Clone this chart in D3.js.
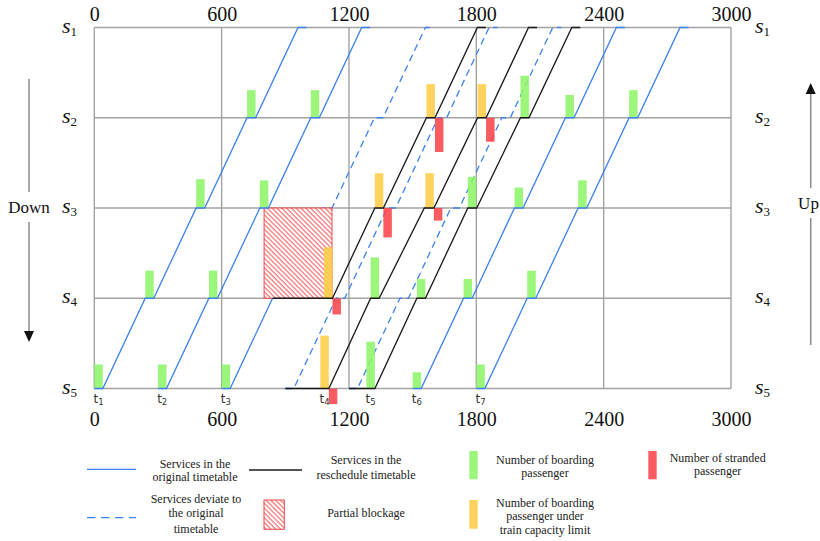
<!DOCTYPE html>
<html>
<head>
<meta charset="utf-8">
<script src="https://cdn.jsdelivr.net/npm/d3@7"></script>
<style>
  body { margin: 0; background: #fff; }
</style>
</head>
<body>
<div id="chart"></div>
<script>
// time ticks (seconds)
const timeTicks = [0, 600, 1200, 1800, 2400, 3000];
const stationIds = [1, 2, 3, 4, 5];
const trainIds = [1, 2, 3, 4, 5, 6, 7];
const trainLabelTimes = [20, 320, 620, 1085, 1302, 1520, 1820];

// blockage: [start, end] time, between stations
const blockageTimes = [800, 1120];
const blockageStations = [3, 4];

// each service: stops as [station, arrive, depart]
const originalServices = [
  [[5, 0, 40], [4, 240, 280], [3, 480, 520], [2, 720, 760], [1, 960, 1000]],
  [[5, 300, 340], [4, 540, 580], [3, 780, 820], [2, 1020, 1060], [1, 1260, 1300]],
  [[5, 600, 640], [4, 840, 840]],
  [[5, 1500, 1540], [4, 1740, 1780], [3, 1980, 2020], [2, 2220, 2260], [1, 2460, 2500]],
  [[5, 1800, 1840], [4, 2040, 2080], [3, 2280, 2320], [2, 2520, 2560], [1, 2760, 2800]]
];
const deviatedServices = [
  [[4, 840, 880], [3, 1080, 1120], [2, 1320, 1360], [1, 1560, 1600]],
  [[5, 900, 940], [4, 1140, 1180], [3, 1380, 1420], [2, 1620, 1660], [1, 1860, 1900]],
  [[5, 1200, 1240], [4, 1440, 1480], [3, 1680, 1720], [2, 1920, 1960], [1, 2160, 2200]]
];
const rescheduledServices = [
  [[4, 840, 1122], [3, 1322, 1362], [2, 1565, 1605], [1, 1805, 1845]],
  [[5, 900, 1105], [4, 1302, 1342], [3, 1555, 1600], [2, 1806, 1846], [1, 2046, 2086]],
  [[5, 1200, 1322], [4, 1520, 1560], [3, 1760, 1802], [2, 2008, 2048], [1, 2250, 2290]]
];

// bars: [station, start, end, passengers]
const boarding = [
  [5, 0, 40, 20], [5, 300, 340, 20], [5, 600, 640, 20], [5, 1282, 1322, 39], [5, 1500, 1540, 13.5], [5, 1800, 1840, 20],
  [4, 240, 280, 23], [4, 540, 580, 23], [4, 1302, 1342, 34], [4, 1520, 1560, 16], [4, 1740, 1780, 16], [4, 2040, 2080, 23],
  [3, 480, 520, 24], [3, 780, 820, 23], [3, 1760, 1800, 26], [3, 1980, 2020, 17], [3, 2280, 2320, 23],
  [2, 720, 760, 23], [2, 1020, 1060, 23], [2, 2008, 2048, 35], [2, 2220, 2260, 19], [2, 2520, 2560, 23]
];
const boardingLimited = [
  [5, 1065, 1105, 44], [4, 1082, 1122, 42.5], [3, 1322, 1362, 29], [3, 1560, 1600, 29],
  [2, 1565, 1605, 28], [2, 1806, 1846, 28]
];
const stranded = [
  [5, 1105, 1145, 13], [4, 1122, 1162, 13.5], [3, 1362, 1402, 24.5], [3, 1600, 1640, 10.5],
  [2, 1605, 1645, 28.5], [2, 1846, 1886, 20]
];

const SERIF = '"Liberation Serif", "Times New Roman", serif';
const W = 820, H = 541;
const svg = d3.select("#chart").append("svg")
  .attr("width", W).attr("height", H)
  .style("font-family", SERIF);

const x = d3.scaleLinear().domain([0, 3000]).range([94.3, 731]);
const y = d3.scaleLinear().domain([1, 5]).range([27.5, 388.5]);
const pax = d3.scaleLinear().domain([0, 50]).range([0, 60]);

const BLUE = "#3d82ef", GRID = "#a3a3a3";
const GREEN = "#8ef56a", ORANGE = "#ffcd47", RED = "#f8444a";

// hatch pattern
const defs = svg.append("defs");
const pat = defs.append("pattern")
  .attr("id", "hatch")
  .attr("patternUnits", "userSpaceOnUse")
  .attr("width", 3.4).attr("height", 3.4)
  .attr("patternTransform", "rotate(-45)");
pat.append("rect").attr("width", 3.4).attr("height", 3.4).attr("fill", "#fff");
pat.append("line")
  .attr("x1", 1).attr("x2", 1).attr("y1", 0).attr("y2", 3.4)
  .attr("stroke", "#f25050").attr("stroke-width", 1);

// grid
svg.append("g").selectAll("line")
  .data(timeTicks)
  .join("line")
  .attr("x1", d => x(d)).attr("x2", d => x(d))
  .attr("y1", y(1)).attr("y2", y(5))
  .attr("stroke", GRID).attr("stroke-width", 1.4);
svg.append("g").selectAll("line")
  .data(stationIds)
  .join("line")
  .attr("x1", x(0)).attr("x2", x(3000))
  .attr("y1", d => y(d)).attr("y2", d => y(d))
  .attr("stroke", GRID).attr("stroke-width", 1.4);

// axes top and bottom
const topAxis = svg.append("g")
  .attr("transform", `translate(0,${y(1)})`)
  .call(d3.axisTop(x).tickValues(timeTicks).tickFormat(d3.format("d")).tickSize(0).tickPadding(7));
const botAxis = svg.append("g")
  .attr("transform", `translate(0,${y(5)})`)
  .call(d3.axisBottom(x).tickValues(timeTicks).tickFormat(d3.format("d")).tickSize(0).tickPadding(23));
[topAxis, botAxis].forEach(g => {
  g.attr("font-family", null).attr("font-size", null)
    .style("font-family", SERIF).style("font-size", "20px");
  g.select(".domain").remove();
  g.selectAll("text").attr("fill", "#111");
});

// station labels
const stLabels = svg.append("g");
[62, 755].forEach(lx => {
  const t = stLabels.selectAll(null)
    .data(stationIds)
    .join("text")
    .attr("x", lx).attr("y", d => y(d) + 5)
    .style("font-size", "22px").attr("fill", "#111");
  t.append("tspan").style("font-style", "italic").text("s");
  t.append("tspan").style("font-size", "13px").attr("dy", 3).text(d => d);
});

function stopPath(stops) {
  const pts = [];
  stops.forEach(s => { pts.push([x(s[1]), y(s[0])]); pts.push([x(s[2]), y(s[0])]); });
  return d3.line()(pts);
}

// dashed services (original plan for deviated trains)
svg.append("g").selectAll("path")
  .data(deviatedServices)
  .join("path")
  .attr("d", stopPath)
  .attr("fill", "none")
  .attr("stroke", BLUE).attr("stroke-width", 1.3)
  .attr("stroke-dasharray", "7,4.5");

// partial blockage
svg.append("rect")
  .attr("x", x(blockageTimes[0])).attr("y", y(blockageStations[0]))
  .attr("width", x(blockageTimes[1]) - x(blockageTimes[0]))
  .attr("height", y(blockageStations[1]) - y(blockageStations[0]))
  .attr("fill", "url(#hatch)")
  .attr("stroke", "#f04848").attr("stroke-width", 1);

// bars
function drawBars(data, color, below) {
  svg.append("g").selectAll("rect")
    .data(data)
    .join("rect")
    .attr("x", d => x(d[1]))
    .attr("width", d => x(d[2]) - x(d[1]))
    .attr("y", d => below ? y(d[0]) : y(d[0]) - pax(d[3]))
    .attr("height", d => pax(d[3]))
    .attr("fill", color).attr("opacity", 0.88);
}
drawBars(boarding, GREEN, false);
drawBars(boardingLimited, ORANGE, false);
drawBars(stranded, RED, true);

// original services
svg.append("g").selectAll("path")
  .data(originalServices)
  .join("path")
  .attr("d", stopPath)
  .attr("fill", "none")
  .attr("stroke", BLUE).attr("stroke-width", 1.3);

// rescheduled services
svg.append("g").selectAll("path")
  .data(rescheduledServices)
  .join("path")
  .attr("d", stopPath)
  .attr("fill", "none")
  .attr("stroke", "#1a1a1a").attr("stroke-width", 1.3);

// train labels t1..t7
const tl = svg.append("g").selectAll("text")
  .data(trainIds)
  .join("text")
  .attr("x", (d, i) => x(trainLabelTimes[i]))
  .attr("y", y(5) + 14)
  .attr("text-anchor", "middle")
  .style("font-family", '"DejaVu Sans", sans-serif')
  .style("font-size", "12px").attr("fill", "#333");
tl.append("tspan").text("t");
tl.append("tspan").style("font-size", "8.5px").attr("dy", 2).text(d => d);

// direction arrows
function arrow(ax, y0, y1, gapMid, label, down, lx) {
  const g = svg.append("g");
  g.append("line").attr("x1", ax).attr("x2", ax).attr("y1", y0).attr("y2", gapMid - 15)
    .attr("stroke", "#8a8a8a").attr("stroke-width", 1.5);
  g.append("line").attr("x1", ax).attr("x2", ax).attr("y1", gapMid + 15).attr("y2", y1)
    .attr("stroke", "#8a8a8a").attr("stroke-width", 1.5);
  const tip = down ? y1 + 8 : y0 - 10;
  const base = down ? y1 - 3 : y0 + 1;
  g.append("path")
    .attr("d", `M${ax - 5},${base}L${ax + 5},${base}L${ax},${tip}Z`)
    .attr("fill", "#111");
  g.append("text").attr("x", lx).attr("y", gapMid + 6)
    .attr("text-anchor", "middle").style("font-size", "17px").attr("fill", "#111")
    .text(label);
}
arrow(29, 79, 334, 207, "Down", true, 29);
arrow(810.7, 93, 345, 203, "Up", false, 808.5);

// legend
const lg = svg.append("g").style("font-size", "12px").attr("fill", "#222");
lg.append("line").attr("x1", 87).attr("x2", 136).attr("y1", 469.3).attr("y2", 469.3)
  .attr("stroke", BLUE).attr("stroke-width", 1.3);
lg.append("line").attr("x1", 249).attr("x2", 302).attr("y1", 470).attr("y2", 470)
  .attr("stroke", "#1a1a1a").attr("stroke-width", 1.3);
lg.append("line").attr("x1", 87).attr("x2", 136).attr("y1", 517.7).attr("y2", 517.7)
  .attr("stroke", BLUE).attr("stroke-width", 1.3).attr("stroke-dasharray", "8.5,5.5");
lg.append("rect").attr("x", 264).attr("y", 500).attr("width", 20.3).attr("height", 29.3)
  .attr("fill", "url(#hatch)").attr("stroke", "#f04848").attr("stroke-width", 1);
lg.append("rect").attr("x", 469.3).attr("y", 451).attr("width", 8.4).attr("height", 28.3)
  .attr("fill", GREEN).attr("opacity", 0.88);
lg.append("rect").attr("x", 648.3).attr("y", 451).attr("width", 8.4).attr("height", 28.3)
  .attr("fill", RED).attr("opacity", 0.88);
lg.append("rect").attr("x", 469.3).attr("y", 500).attr("width", 8.4).attr("height", 28.7)
  .attr("fill", ORANGE).attr("opacity", 0.88);

const legendTexts = [
  [195, [468, 481], ["Services in the", "original timetable"]],
  [366, [463.5, 479], ["Services in the", "reschedule timetable"]],
  [196, [503, 517, 533], ["Services deviate to", "the original", "timetable"]],
  [366, [517], ["Partial blockage"]],
  [545, [464, 477], ["Number of boarding", "passenger"]],
  [717.7, [462, 475], ["Number of stranded", "passenger"]],
  [545, [507, 520, 533.5], ["Number of boarding", "passenger under", "train capacity limit"]]
];
legendTexts.forEach(([cx, ys, lines]) => {
  lines.forEach((t, i) => {
    lg.append("text").attr("x", cx).attr("y", ys[i])
      .attr("text-anchor", "middle").text(t);
  });
});
</script>
</body>
</html>
